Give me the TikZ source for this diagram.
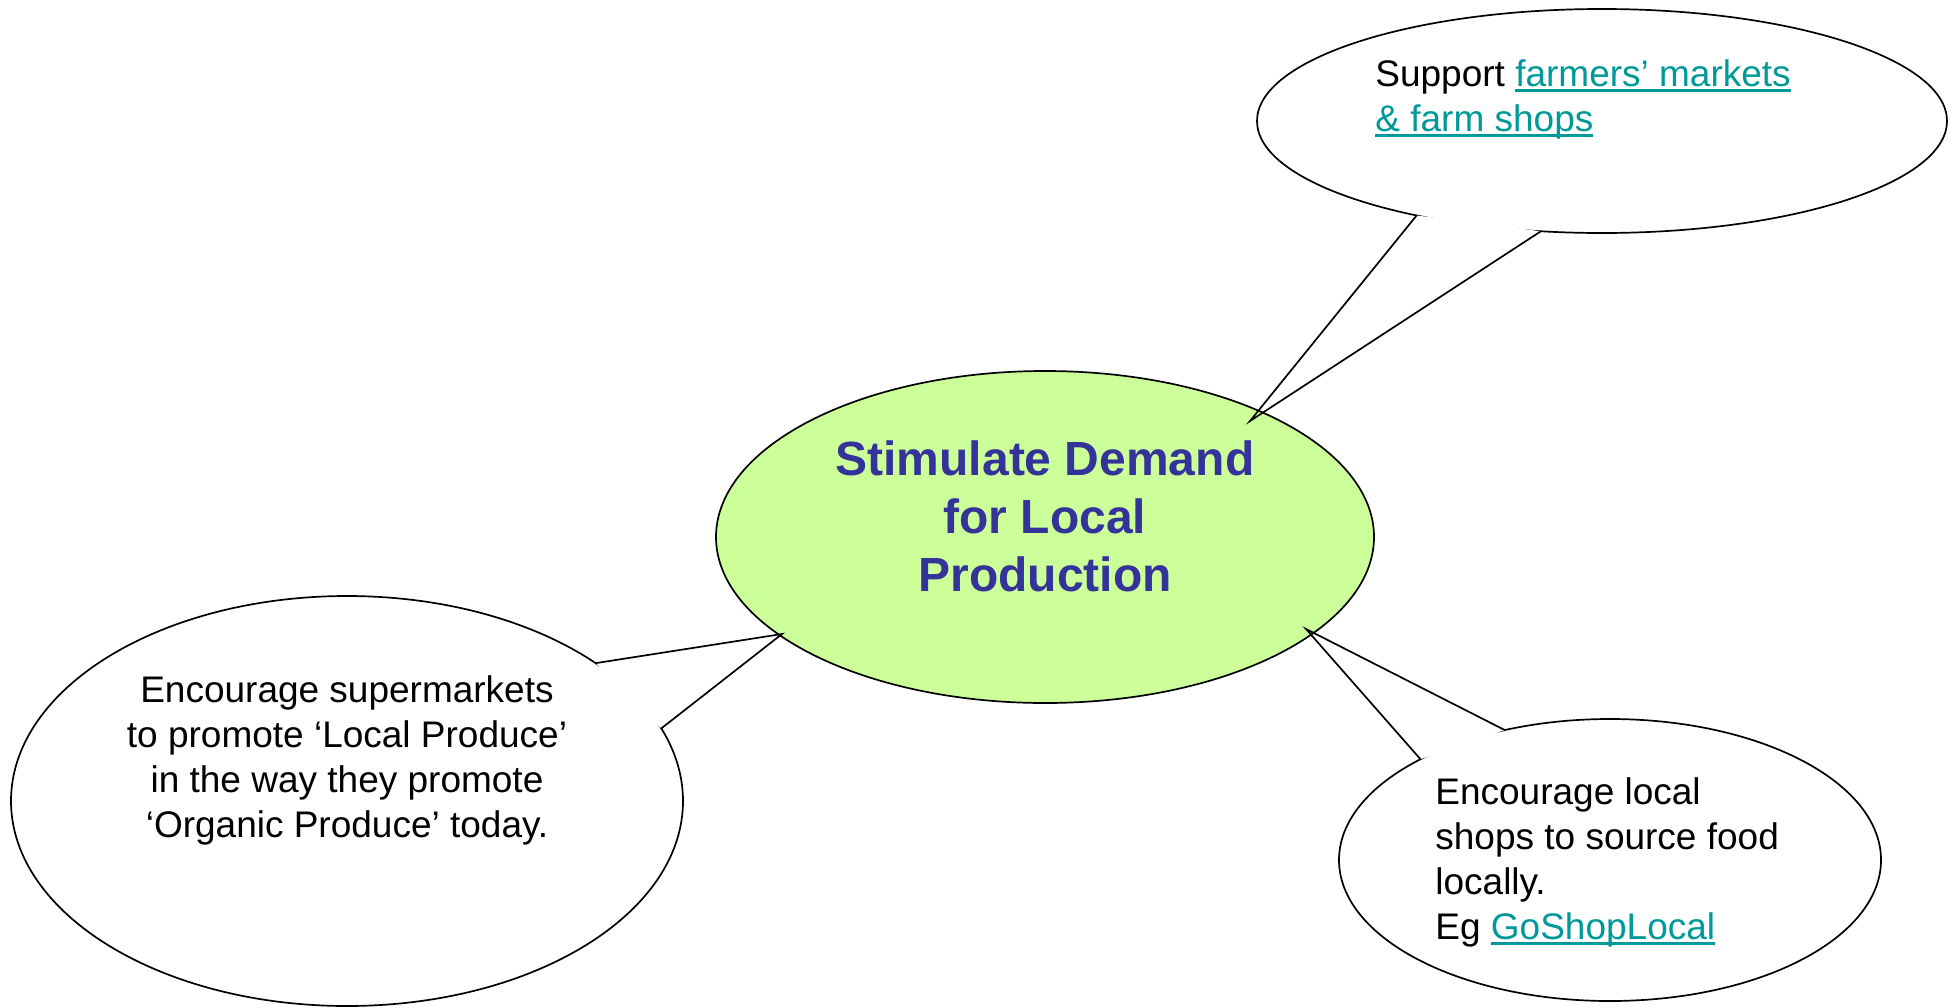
\documentclass[tikz,border=0pt]{standalone}
\usepackage{fontspec}
\setmainfont{Liberation Sans}
\usetikzlibrary{shapes.geometric}

\definecolor{leafgreen}{HTML}{CCFF99}
\definecolor{titleblue}{HTML}{333399}
\definecolor{linkteal}{HTML}{009999}

\newcommand{\weblink}[1]{\textcolor{linkteal}{\setbox0=\hbox{#1}\rlap{\rule[-0.143em]{\wd0}{0.073em}}\box0}}

\tikzset{
  bubble/.style={ellipse, draw, fill=white, line width=0.85pt, inner sep=0pt, outer sep=0pt},
  bubbletext/.style={font=\fontsize{18.5}{22.5}\selectfont, inner sep=0pt},
  tail/.style={line width=0.85pt, line join=miter, line cap=round},
}

\begin{document}
\begin{tikzpicture}[x=0.5pt, y=-0.5pt]
\useasboundingbox (0,0) rectangle (1959,1007);
% speech bubbles
\node[bubble, minimum width=345pt, minimum height=112pt] (markets) at (1602,121) {};
\node[bubble, minimum width=336pt, minimum height=205pt] (supermarkets) at (347,801) {};
\node[bubble, minimum width=271pt, minimum height=141pt] (shops) at (1610,860) {};
% tips of the tails
\coordinate (tipmarkets) at (1250,421);
\coordinate (tipsupermarkets) at (782,634);
\coordinate (tipshops) at (1306,629);
\fill[white] (markets.207.7) -- (tipmarkets) -- (markets.241.6) -- cycle;
\fill[white] (supermarkets.29.7) -- (tipsupermarkets) -- (supermarkets.13.3) -- cycle;
\fill[white] (shops.152.4) -- (tipshops) -- (shops.129.4) -- cycle;
% centre
\node[ellipse, draw, fill=leafgreen, line width=0.85pt, inner sep=0pt,
  minimum width=329pt, minimum height=166pt] (demand) at (1045,537) {};
\node[font=\fontsize{24}{29}\selectfont\bfseries, text=titleblue, align=center,
  inner sep=0pt, anchor=north] (demandtext) at (1045,440) {Stimulate Demand\\for Local\\Production};
% tails
\draw[tail] (markets.207.7) -- (tipmarkets) -- (markets.241.6);
\draw[tail] (supermarkets.29.7) -- (tipsupermarkets) -- (supermarkets.13.3);
\draw[tail] (shops.152.4) -- (tipshops) -- (shops.129.4);
% texts
\node[bubbletext, align=left, anchor=north west] (marketstext) at (1375,59)
  {Support \weblink{farmers’ markets}\\\weblink{\& farm shops}};
\node[bubbletext, align=center, anchor=north] (supermarketstext) at (347,675)
  {Encourage supermarkets\\to promote ‘Local Produce’\\in the way they promote\\‘Organic Produce’ today.};
\node[bubbletext, align=left, anchor=north west] (shopstext) at (1435,777)
  {Encourage local\\shops to source food\\locally.\\Eg \weblink{GoShopLocal}};
\end{tikzpicture}
\end{document}
